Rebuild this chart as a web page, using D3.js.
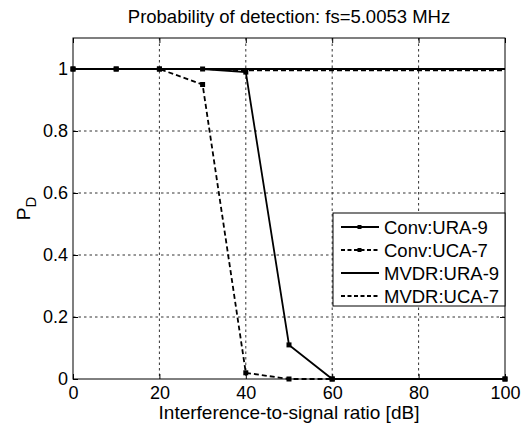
<!DOCTYPE html>
<html>
<head>
<meta charset="utf-8">
<script src="https://cdn.jsdelivr.net/npm/d3@7"></script>
<style>
  body { margin: 0; background: #fff; }
  text { font-family: "Liberation Sans", Arial, sans-serif; }
</style>
</head>
<body>
<div id="chart"></div>
<script>
var svgWidth = 527;
var svgHeight = 426;

var margin = { top: 38, right: 22, bottom: 47, left: 73 };

var width = svgWidth - margin.left - margin.right;
var height = svgHeight - margin.top - margin.bottom;

// ISR values in dB
var isr = [0, 10, 20, 30, 40, 50, 60, 100];
var convURA = [1, 1, 1, 1, 0.99, 0.11, 0, 0];
var convUCA = [1, 1, 1, 0.95, 0.02, 0, 0, 0];
var mvdrURA = [1, 1, 1, 1, 1, 1, 1, 1];
var mvdrUCA = [1, 1, 1, 1, 0.996, 0.996, 0.996, 0.996];

var xTicks = [0, 20, 40, 60, 80, 100];
var yTicks = [0, 0.2, 0.4, 0.6, 0.8, 1];

var series = [
  { name: "Conv:URA-9", values: convURA, dash: null, marker: true },
  { name: "Conv:UCA-7", values: convUCA, dash: "5,3", marker: true },
  { name: "MVDR:URA-9", values: mvdrURA, dash: null, marker: false },
  { name: "MVDR:UCA-7", values: mvdrUCA, dash: "5,3", marker: false }
];

var svg = d3.select("#chart")
  .append("svg")
  .attr("width", svgWidth)
  .attr("height", svgHeight);

var chartGroup = svg.append("g")
  .attr("transform", `translate(${margin.left}, ${margin.top})`);

var xScale = d3.scaleLinear().domain([0, 100]).range([0, width]);
var yScale = d3.scaleLinear().domain([0, 1.1]).range([height, 0]);

// grid
chartGroup.selectAll(".vgrid")
  .data(xTicks.slice(1, -1))
  .enter()
  .append("line")
  .attr("x1", d => xScale(d))
  .attr("x2", d => xScale(d))
  .attr("y1", 0)
  .attr("y2", height)
  .attr("stroke", "#333")
  .attr("stroke-width", 1)
  .attr("stroke-dasharray", "2.5,3");

chartGroup.selectAll(".hgrid")
  .data(yTicks.slice(1))
  .enter()
  .append("line")
  .attr("x1", 0)
  .attr("x2", width)
  .attr("y1", d => yScale(d))
  .attr("y2", d => yScale(d))
  .attr("stroke", "#333")
  .attr("stroke-width", 1)
  .attr("stroke-dasharray", "2.5,3");

// axes
var bottomAxis = d3.axisBottom(xScale).tickValues(xTicks).tickSize(-5).tickPadding(7)
  .tickFormat(d3.format("d"));
var leftAxis = d3.axisLeft(yScale).tickValues(yTicks).tickSize(-5).tickPadding(5)
  .tickFormat(d => d === 0 || d === 1 ? d : d3.format(".1f")(d));
var topAxis = d3.axisTop(xScale).tickValues(xTicks).tickSize(-5).tickFormat("");
var rightAxis = d3.axisRight(yScale).tickValues(yTicks).tickSize(-5).tickFormat("");

[ [bottomAxis, `translate(0, ${height})`],
  [leftAxis, null],
  [topAxis, null],
  [rightAxis, `translate(${width}, 0)`] ].forEach(function(a) {
  var g = chartGroup.append("g").call(a[0]);
  if (a[1]) g.attr("transform", a[1]);
  g.select(".domain").remove();
  g.selectAll("line").attr("stroke", "#000");
  g.selectAll("text").attr("font-size", "18px").attr("fill", "#000")
    .attr("font-family", "Liberation Sans, Arial, sans-serif");
});

chartGroup.append("rect")
  .attr("width", width)
  .attr("height", height)
  .attr("fill", "none")
  .attr("stroke", "#000")
  .attr("stroke-width", 1);

// lines
var line = d3.line()
  .x((d, i) => xScale(isr[i]))
  .y(d => yScale(d));

series.slice().reverse().forEach(function(s) {
  chartGroup.append("path")
    .attr("d", line(s.values))
    .attr("fill", "none")
    .attr("stroke", "#000")
    .attr("stroke-width", 1.8)
    .attr("stroke-dasharray", s.dash);
  if (s.marker) {
    chartGroup.selectAll(null)
      .data(s.values)
      .enter()
      .append("rect")
      .attr("x", (d, i) => xScale(isr[i]) - 2.5)
      .attr("y", d => yScale(d) - 2.5)
      .attr("width", 5)
      .attr("height", 5)
      .attr("fill", "#000");
  }
});

// title & labels
svg.append("text")
  .attr("x", margin.left + width / 2)
  .attr("y", 23)
  .attr("text-anchor", "middle")
  .attr("font-size", "18.5px")
  .text("Probability of detection: fs=5.0053 MHz");

svg.append("text")
  .attr("x", margin.left + width / 2)
  .attr("y", 419)
  .attr("text-anchor", "middle")
  .attr("font-size", "19px")
  .text("Interference-to-signal ratio [dB]");

var yLabel = svg.append("text")
  .attr("transform", `translate(30, ${margin.top + yScale(0.55)}) rotate(-90)`)
  .attr("text-anchor", "middle")
  .attr("font-size", "19px");
yLabel.append("tspan").text("P");
yLabel.append("tspan").attr("dy", 6).attr("font-size", "15px").text("D");

// legend
var legend = svg.append("g")
  .attr("transform", "translate(333, 213)");

legend.append("rect")
  .attr("width", 172)
  .attr("height", 93)
  .attr("fill", "#fff")
  .attr("stroke", "#000")
  .attr("stroke-width", 1);

var items = legend.selectAll(".item")
  .data(series)
  .enter()
  .append("g")
  .attr("transform", (d, i) => `translate(0, ${14 + i * 23})`);

items.append("line")
  .attr("x1", 8)
  .attr("x2", 46)
  .attr("stroke", "#000")
  .attr("stroke-width", 1.8)
  .attr("stroke-dasharray", d => d.dash ? "4,2.5" : null);

items.filter(d => d.marker)
  .append("rect")
  .attr("x", 24.5)
  .attr("y", -2)
  .attr("width", 4)
  .attr("height", 4)
  .attr("fill", "#000");

items.append("text")
  .attr("x", 51)
  .attr("y", 6.5)
  .attr("font-size", "18.5px")
  .text(d => d.name);
</script>
</body>
</html>
